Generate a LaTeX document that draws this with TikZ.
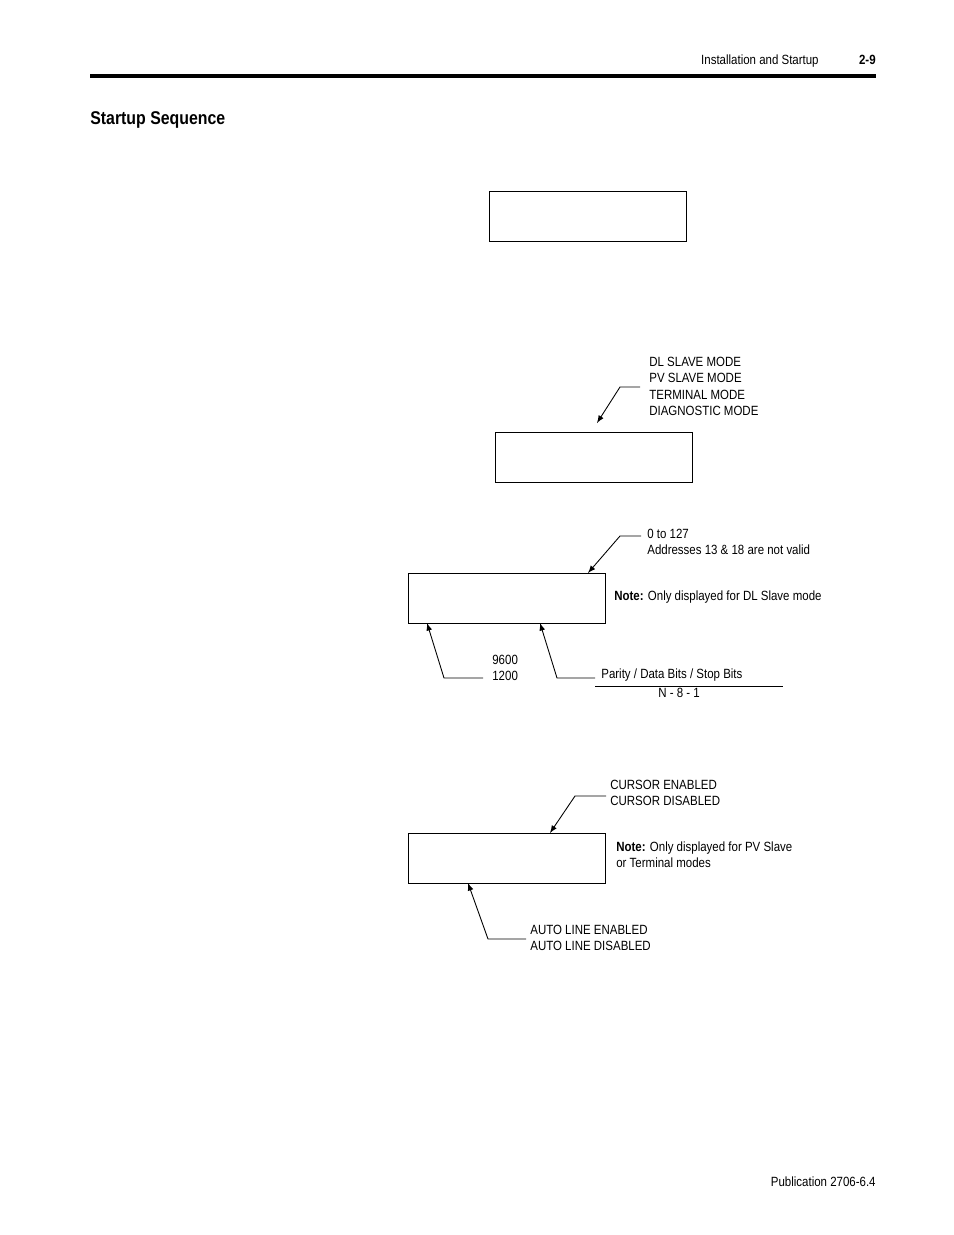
\documentclass[tikz,border=0pt]{standalone}
\usepackage{fontspec}
\setmainfont[FakeStretch=0.86]{Liberation Sans}
\usetikzlibrary{positioning,arrows}

\tikzset{
    screen/.style={draw,minimum width=197*0.02cm,minimum height=50*0.02cm,inner sep=0pt},
    lbl/.style={align=left,anchor=north west,inner sep=0pt,font=\fontsize{7.6}{9.2}\selectfont},
    callout/.style={-latex,line width=0.5pt}
}

\begin{document}
\begin{tikzpicture}[x=0.02cm,y=-0.02cm]
    \useasboundingbox (0,0) rectangle (954,1235);

    % page header
    \node[lbl,anchor=base east] (hdr) at (819,64) {Installation and Startup};
    \node[lbl,anchor=base east,font=\fontsize{7.6}{9.2}\selectfont\bfseries] (pg) at (876,64) {2-9};
    \draw[line width=1.8pt] (90,76) -- (876,76);
    \node[anchor=base west,inner sep=0pt,font=\fontsize{10.5}{12}\selectfont\bfseries] (title) at (90,124) {Startup Sequence};

    % screens
    \node[screen] (s1) at (588,216) {};
    \node[screen] (s2) at (594,457) {};
    \node[screen] (s3) at (507,598) {};
    \node[screen] (s4) at (507,858) {};

    % labels
    \node[lbl] (modes) at (649,357) {DL SLAVE MODE\\PV SLAVE MODE\\TERMINAL MODE\\DIAGNOSTIC MODE};
    \node[lbl] (addr) at (647,529) {0 to 127\\Addresses 13 \& 18 are not valid};
    \node[lbl,anchor=west] (note1) at (614,597) {\textbf{Note:} Only displayed for DL Slave mode};
    \node[lbl] (baud) at (492,655) {9600\\1200};
    \node[lbl] (parity) at (601,668) {Parity / Data Bits / Stop Bits};
    \node[lbl] (n81) at (658,688) {N - 8 - 1};
    \node[lbl] (cursor) at (610,780) {CURSOR ENABLED\\CURSOR DISABLED};
    \node[lbl] (note2) at (616,841) {\textbf{Note:} Only displayed for PV Slave\\or Terminal modes};
    \node[lbl] (auto) at (530,925) {AUTO LINE ENABLED\\AUTO LINE DISABLED};

    \node[lbl,anchor=base east] (pub) at (876,1186) {Publication 2706-6.4};

    % connectors
    \coordinate (k1) at (620,387);
    \draw[callout] (640,387) -- (k1) -- (597,423);
    \draw[callout] (641,536) -- (620,536) -- (588,573);
    \draw[callout] (483,678) -- (444,678) -- (427,623);
    \draw[callout] (595,678) -- (557,678) -- (540,623);
    \draw (595,686) -- (783,686);
    \draw[callout] (606,796) -- (575,796) -- (550,833);
    \draw[callout] (526,939) -- (488,939) -- (468,883);
\end{tikzpicture}
\end{document}
